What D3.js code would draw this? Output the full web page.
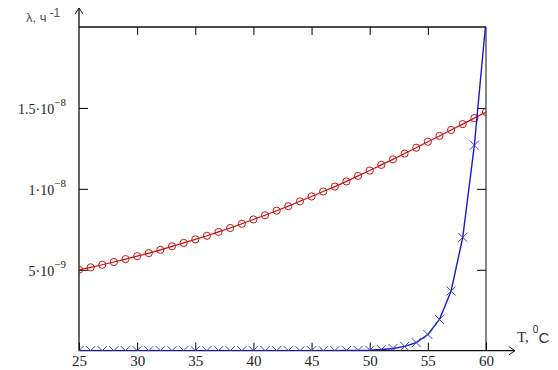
<!DOCTYPE html>
<html lang="ru">
<head>
<meta charset="UTF-8">
<title>λ(T)</title>
<script src="https://d3js.org/d3.v7.min.js"></script>
<style>
    body { margin: 0; background: #fff; }
    svg { display: block; font-family: "Liberation Serif", serif; }
</style>
</head>
<body>
<svg width="558" height="370"></svg>
<script>
    // температура, °C
    const temps = d3.range(25, 61);
    // красная кривая (кружки), единицы 1e-9 1/ч
    const redVals = [5.00, 5.15, 5.31, 5.48, 5.66, 5.84, 6.03, 6.23, 6.45, 6.66,
        6.88, 7.10, 7.34, 7.58, 7.84, 8.11, 8.37, 8.65, 8.93, 9.23,
        9.53, 9.84, 10.14, 10.46, 10.80, 11.13, 11.48, 11.82, 12.18, 12.54,
        12.91, 13.27, 13.64, 14.00, 14.37, 14.75];
    // синяя кривая (крестики), единицы 1e-9 1/ч
    const blueVals = [0.001, 0.001, 0.001, 0.001, 0.001, 0.001, 0.001, 0.001, 0.001, 0.001,
        0.001, 0.001, 0.001, 0.001, 0.001, 0.001, 0.001, 0.001, 0.001, 0.001,
        0.001, 0.002, 0.004, 0.009, 0.018, 0.035, 0.07, 0.14, 0.27, 0.5,
        1.0, 1.93, 3.69, 7.0, 12.7, 20.4];
    // подписи делений
    const xTicks = [25, 30, 35, 40, 45, 50, 55, 60];
    const yTicks = [5e-9, 1e-8, 1.5e-8];
    const yTickMant = ["5", "1", "1.5"];
    const yTickExp = ["\u22129", "\u22128", "\u22128"];

    const svg = d3.select("svg");
    const x0 = 79, x1 = 486, yTop = 27, yBot = 350.7;

    const x = d3.scaleLinear().domain([25, 60]).range([x0, x1]);
    const y = d3.scaleLinear().domain([0, 2e-8]).range([yBot, yTop]);

    const red = temps.map((t, i) => ({ t: t, v: redVals[i] * 1e-9 }));
    const blue = temps.map((t, i) => ({ t: t, v: blueVals[i] * 1e-9 }));

    svg.append("clipPath").attr("id", "plot")
        .append("rect").attr("x", x0).attr("y", yTop)
        .attr("width", x1 - x0).attr("height", yBot - yTop);

    // рамка сверху и справа
    svg.append("line").attr("x1", x0).attr("x2", x1).attr("y1", yTop).attr("y2", yTop)
        .attr("stroke", "#111").attr("stroke-width", 1.3);
    svg.append("line").attr("x1", x1).attr("x2", x1).attr("y1", yTop).attr("y2", yBot)
        .attr("stroke", "#444").attr("stroke-width", 1.3);

    // верхние деления
    const gTop = svg.append("g").attr("transform", `translate(0,${yTop})`)
        .call(d3.axisTop(x).tickValues(xTicks.slice(1, -1)).tickSizeInner(-8).tickSizeOuter(0).tickFormat(""));
    gTop.select(".domain").remove();

    // правые деления
    const gRight = svg.append("g").attr("transform", `translate(${x1},0)`)
        .call(d3.axisRight(y).tickValues(yTicks).tickSizeInner(-9).tickSizeOuter(0).tickFormat(""));
    gRight.select(".domain").remove();

    // ось X
    const gx = svg.append("g").attr("transform", `translate(0,${yBot})`)
        .call(d3.axisBottom(x).tickValues(xTicks).tickSizeInner(-8).tickSizeOuter(0).tickPadding(5));
    gx.select(".domain").remove();
    gx.selectAll("text").style("font-size", "15px").style("font-family", "'Liberation Serif', serif").attr("fill", "#222");
    svg.append("line").attr("x1", x0).attr("x2", 515).attr("y1", yBot).attr("y2", yBot)
        .attr("stroke", "#111").attr("stroke-width", 1.3);
    svg.append("path").attr("d", `M509,${yBot - 4}L515,${yBot}L509,${yBot + 4}`)
        .attr("fill", "none").attr("stroke", "#111");

    // ось Y
    const gy = svg.append("g").attr("transform", `translate(${x0},0)`)
        .call(d3.axisLeft(y).tickValues(yTicks).tickSizeInner(-9).tickSizeOuter(0).tickPadding(13).tickFormat(""));
    gy.select(".domain").remove();
    gy.selectAll(".tick").each(function (d, i) {
        const t = d3.select(this).select("text")
            .style("font-size", "14px").style("font-family", "'Liberation Serif', serif").attr("fill", "#222")
            .attr("dy", "0.4em");
        t.append("tspan").text(yTickMant[i] + "\u00b710");
        t.append("tspan").style("font-size", "11px").attr("dy", "-0.75em").text(yTickExp[i]);
    });
    svg.append("line").attr("x1", x0).attr("x2", x0).attr("y1", yBot).attr("y2", 8)
        .attr("stroke", "#111").attr("stroke-width", 1.3);
    svg.append("path").attr("d", `M${x0 - 4},14L${x0},8L${x0 + 4},14`)
        .attr("fill", "none").attr("stroke", "#111");

    // подписи осей
    const yl = svg.append("text").attr("x", 26).attr("y", 22)
        .style("font-family", "'Liberation Sans', sans-serif").style("font-size", "13px").attr("fill", "#555");
    yl.append("tspan").text("\u03bb, \u0447");
    yl.append("tspan").style("font-size", "12px").attr("dy", -5).attr("dx", 3).text("-1");

    const xl = svg.append("text").attr("x", 517).attr("y", 342)
        .style("font-size", "15px").attr("fill", "#333");
    xl.append("tspan").text("T,");
    xl.append("tspan").style("font-family", "'Liberation Sans', sans-serif").style("font-size", "10px")
        .attr("dx", 4).attr("dy", -9).text("0");
    xl.append("tspan").style("font-family", "'Liberation Sans', sans-serif").style("font-size", "15px")
        .attr("dy", 10).text("C");

    const plot = svg.append("g").attr("clip-path", "url(#plot)");
    const line = d3.line().x(d => x(d.t)).y(d => y(d.v));

    // красная кривая
    plot.append("path").datum(red).attr("d", line)
        .attr("fill", "none").attr("stroke", "#cc1111").attr("stroke-width", 1.2);
    plot.selectAll(".rc").data(red).enter().append("circle")
        .attr("class", "rc")
        .attr("cx", d => x(d.t)).attr("cy", d => y(d.v)).attr("r", 3.6)
        .attr("fill", "none").attr("stroke", "#cc1111").attr("stroke-width", 1);

    // синяя кривая
    plot.append("path").datum(blue).attr("d", line)
        .attr("fill", "none").attr("stroke", "#1a1acc").attr("stroke-width", 1.4);
    plot.selectAll(".bc").data(blue).enter().append("path")
        .attr("class", "bc")
        .attr("d", d => {
            const cx = x(d.t), cy = y(d.v), s = 4.5;
            return `M${cx - s},${cy - s}L${cx + s},${cy + s}M${cx - s},${cy + s}L${cx + s},${cy - s}`;
        })
        .attr("fill", "none").attr("stroke", "#3a3ad0").attr("stroke-width", 1);
</script>
</body>
</html>
